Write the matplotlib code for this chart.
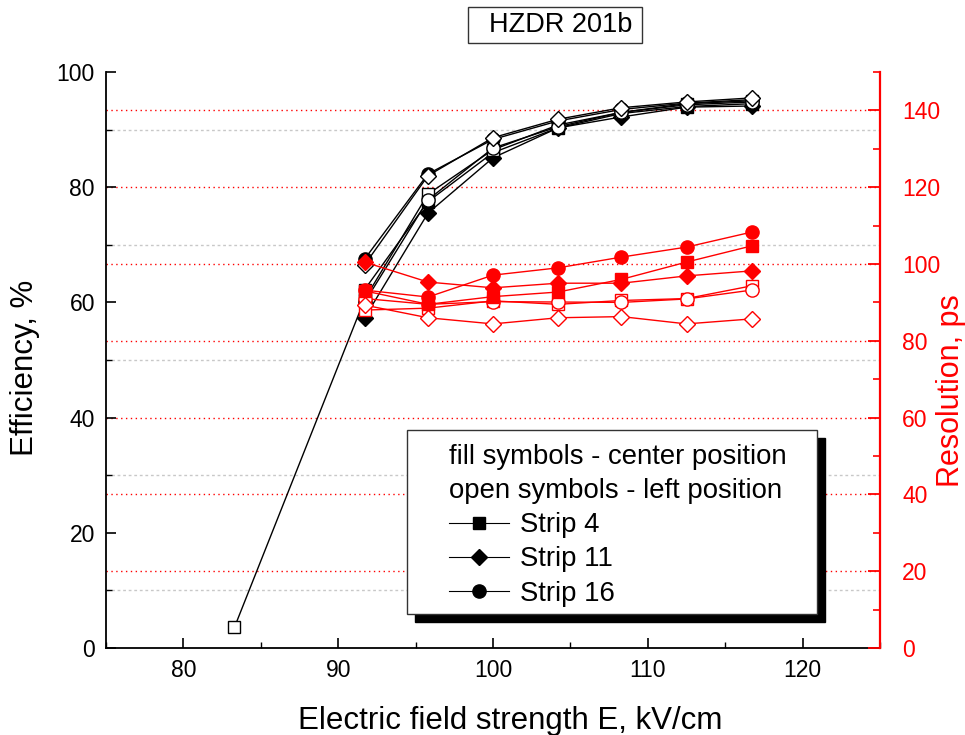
import matplotlib
matplotlib.use('Agg')
import matplotlib.pyplot as plt
import matplotlib.transforms as mtransforms
from matplotlib.lines import Line2D
from matplotlib.patches import Rectangle
from matplotlib.ticker import MultipleLocator

plt.rcParams['font.family'] = ['Liberation Sans', 'DejaVu Sans']

# electric field, kV/cm
field = [91.7, 95.8, 100.0, 104.2, 108.3, 112.5, 116.7]
field_s4_left = [83.3, 91.7, 95.8, 100.0, 104.2, 108.3, 112.5, 116.7]

# efficiency, % (left axis)
eff_s4_center = [62.2, 77.5, 86.0, 90.3, 92.8, 94.0, 94.5]
eff_s11_center = [57.3, 75.5, 85.1, 90.3, 92.2, 93.9, 94.1]
eff_s16_center = [67.5, 82.3, 88.3, 91.5, 93.5, 94.6, 95.2]
eff_s4_left = [3.6, 60.5, 78.8, 86.5, 90.8, 93.0, 94.5, 95.0]
eff_s11_left = [66.5, 82.0, 88.6, 91.8, 93.8, 94.8, 95.5]
eff_s16_left = [60.0, 77.8, 86.8, 90.5, 93.0, 94.3, 94.8]

# time resolution, ps (right axis)
res_s4_center = [93.0, 89.5, 91.5, 92.7, 96.0, 100.5, 104.7]
res_s11_center = [100.5, 95.3, 93.8, 95.0, 95.0, 96.9, 98.2]
res_s16_center = [93.2, 91.4, 97.1, 99.0, 101.8, 104.4, 108.3]
res_s4_left = [88.0, 88.5, 90.4, 89.5, 90.5, 91.0, 94.3]
res_s11_left = [89.3, 86.0, 84.4, 86.0, 86.3, 84.4, 85.7]
res_s16_left = [91.0, 89.5, 90.2, 90.1, 90.0, 90.9, 93.2]

strip_labels = ['Strip 4', 'Strip 11', 'Strip 16']
legend_title = 'fill symbols - center position\nopen symbols - left position'

W, H = 965, 735
fig = plt.figure(figsize=(W / 100, H / 100), dpi=100)
ax = fig.add_axes([106 / W, 1 - 648 / H, (880 - 106) / W, (648 - 72) / H])
ax2 = ax.twinx()

ms = {'s': 9, 'D': 8.5, 'o': 9.5}

# grids: gray at left minor ticks, red at right major ticks
for v in range(10, 100, 20):
    ax.axhline(v, color='#c8c8c8', lw=1, ls=(0, (2, 2)), zorder=0.5)
trans = mtransforms.blended_transform_factory(ax.transAxes, ax2.transData)
for v in range(20, 150, 20):
    ax.plot([0, 1], [v, v], transform=trans, color='red', lw=1, ls=(0, (1, 2.5)), zorder=0.6)

# efficiency curves
for y, m in [(eff_s4_center, 's'), (eff_s11_center, 'D'), (eff_s16_center, 'o')]:
    ax.plot(field, y, color='black', lw=1, marker=m, ms=ms[m], mfc='black', mec='black', zorder=3)
ax.plot(field_s4_left, eff_s4_left, color='black', lw=1, marker='s', ms=ms['s'], mfc='white', mec='black', zorder=3)
for y, m in [(eff_s16_left, 'o'), (eff_s11_left, 'D')]:
    ax.plot(field, y, color='black', lw=1, marker=m, ms=ms[m], mfc='white', mec='black', zorder=3)

# resolution curves
for y, m in [(res_s4_left, 's'), (res_s16_left, 'o'), (res_s11_left, 'D')]:
    ax2.plot(field, y, color='red', lw=1, marker=m, ms=ms[m], mfc='white', mec='red', zorder=3)
for y, m in [(res_s4_center, 's'), (res_s16_center, 'o'), (res_s11_center, 'D')]:
    ax2.plot(field, y, color='red', lw=1, marker=m, ms=ms[m], mfc='red', mec='red', zorder=3)

ax.set_xlim(75, 125)
ax.set_ylim(0, 100)
ax2.set_ylim(0, 150)
ax.xaxis.set_minor_locator(MultipleLocator(5))
ax.set_xticks([80, 90, 100, 110, 120])
ax.yaxis.set_major_locator(MultipleLocator(20))
ax.yaxis.set_minor_locator(MultipleLocator(10))
ax2.yaxis.set_minor_locator(MultipleLocator(10))
ax2.set_yticks(range(0, 141, 20))

for a in (ax, ax2):
    a.spines['top'].set_visible(False)
ax.spines['right'].set_visible(False)
ax.spines['left'].set_linewidth(1.3)
ax.spines['bottom'].set_linewidth(1.3)
ax2.spines['left'].set_visible(False)
ax2.spines['bottom'].set_visible(False)
ax2.spines['right'].set_color('red')
ax2.spines['right'].set_linewidth(1.6)

ax.tick_params(axis='both', which='major', direction='in', length=7, width=1.2, labelsize=16.5, pad=8)
ax.tick_params(axis='both', which='minor', direction='in', length=4, width=1.0)
ax2.tick_params(axis='y', which='major', direction='in', length=9, width=1.3, colors='red', labelsize=16.5, pad=16)
ax2.tick_params(axis='y', which='minor', direction='in', length=5, width=1.2, colors='red')

aw, ah = 880 - 106, 648 - 72
ax.set_xlabel('Electric field strength E, kV/cm', fontsize=22.5)
ax.xaxis.set_label_coords((510 - 106) / aw, (648 - 706) / ah)
ax.set_ylabel('Efficiency, %', fontsize=22.5)
ax.yaxis.set_label_coords((40 - 106) / aw, (648 - 368) / ah)
ax2.set_ylabel('Resolution, ps', fontsize=22)
ax2.yaxis.label.set_color('red')
ax2.yaxis.set_label_coords((936 - 106) / aw, (648 - 391) / ah)

# legend frame with hard black shadow
bx0, bx1, by0, by1 = (407 - 106) / aw, (817 - 106) / aw, (648 - 614) / ah, (648 - 430) / ah
ax2.add_patch(Rectangle((bx0 + 8 / aw, by0 - 8 / ah), bx1 - bx0, by1 - by0, transform=ax2.transAxes,
                        facecolor='black', edgecolor='black', zorder=9, clip_on=False))
ax2.add_patch(Rectangle((bx0, by0), bx1 - bx0, by1 - by0, transform=ax2.transAxes,
                        facecolor='white', edgecolor='#333333', lw=1, zorder=9.5, clip_on=False))
handles = [Line2D([], [], color='black', lw=0.8, marker=m, ms=ms[m], mfc='black', mec='black')
           for m in ['s', 'D', 'o']]
leg = ax2.legend(handles, strip_labels, title=legend_title, alignment='left', loc='upper left',
                 bbox_to_anchor=((449 - 106) / aw, (648 - 444) / ah), frameon=False, fontsize=19.8,
                 title_fontsize=19.8, borderpad=0, labelspacing=0.3, handlelength=2.2,
                 handletextpad=0.4, borderaxespad=0)
leg.get_title().set_linespacing(1.4)
leg.set_zorder(10)

# title box
fig.patches.append(Rectangle((468 / W, 1 - 43 / H), 174 / W, 36 / H, transform=fig.transFigure,
                             fill=False, edgecolor='#333333', lw=1))
fig.text(489 / W, 1 - 25 / H, 'HZDR 201b', fontsize=19.5, ha='left', va='center')

fig.savefig('out.png', dpi=100)
